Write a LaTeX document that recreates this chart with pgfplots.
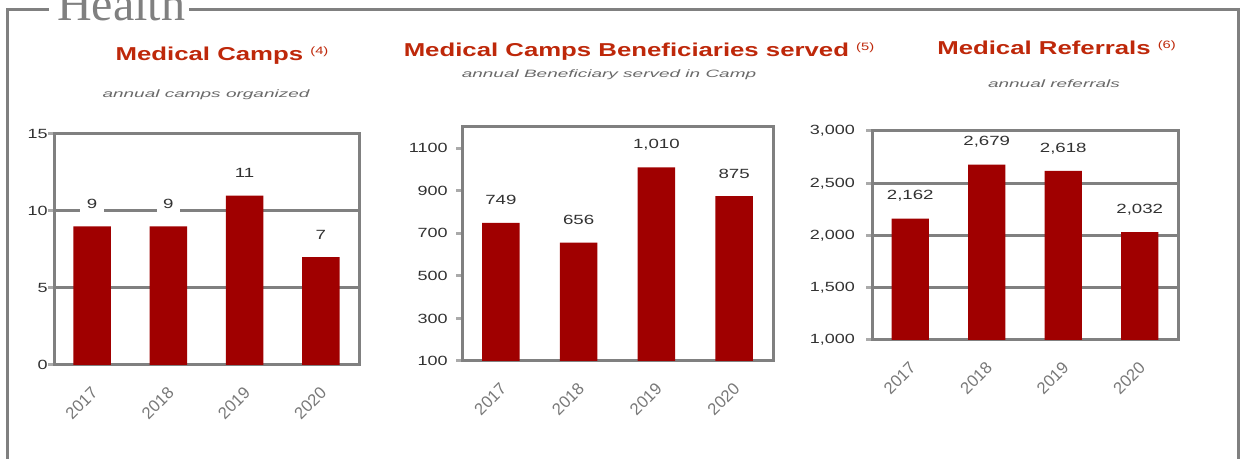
\documentclass[border=0pt]{standalone}
\usepackage{pgfplots}
\pgfplotsset{compat=1.18}
\usepackage{fontspec}
\setmainfont{Liberation Sans}
\newfontfamily\serif{Liberation Serif}
\definecolor{barred}{RGB}{160,0,0}
\definecolor{framegray}{RGB}{128,128,128}
\definecolor{tickgray}{RGB}{170,170,170}
\definecolor{titlered}{RGB}{190,40,10}
\definecolor{subgray}{RGB}{105,105,105}
\definecolor{labeldark}{RGB}{50,50,50}
\definecolor{yeargray}{RGB}{120,120,120}

\pgfplotsset{
  healthbar/.style={
    ybar, bar width=28pt,
    scale only axis,
    xmin=-0.5, xmax=3.5,
    xtick={0,1,2,3}, xticklabels={2017,2018,2019,2020},
    axis line style={framegray, line width=2.25pt},
    xtick style={draw=none},
    ytick pos=left,
    ytick style={draw=tickgray, line width=2.25pt},
    tick align=outside, major tick length=4.5pt,
    grid style={framegray, line width=2.25pt},
    scaled y ticks=false,
    /pgf/number format/assume math mode=true,
    yticklabel style={font=\fontsize{10}{12}\selectfont, text=labeldark, anchor=east, inner sep=0pt, xscale=1.35},
    xticklabel style={font=\fontsize{12.5}{14}\selectfont, text=yeargray, inner sep=0pt, anchor=east, yshift=-14pt, xshift=2pt, rotate=45},
    nodes near coords={\pgfmathprintnumber[1000 sep={,}]{\pgfplotspointmeta}},
    every node near coord/.append style={anchor=center, yshift=17pt, fill=white, inner xsep=3.5pt, inner ysep=3.5pt, font=\fontsize{10}{12}\selectfont, text=labeldark, xscale=1.4},
  }
}

\begin{document}
\begin{tikzpicture}
\useasboundingbox (0,0) rectangle (930.75pt,344.25pt);
\begin{scope}
\clip (0,0) rectangle (930.75pt,344.25pt);
\draw[framegray, line width=2.25pt] (36.75pt,336.75pt) -- (5.25pt,336.75pt) -- (5.25pt,-10pt);
\draw[framegray, line width=2.25pt] (141.75pt,336.75pt) -- (928.5pt,336.75pt) -- (928.5pt,-10pt);
\node[anchor=base west, inner sep=0pt, text=framegray, font=\serif\fontsize{36}{40}\selectfont] at (42.75pt,328.5pt) {Health};
\end{scope}

% titles
\node[anchor=base, text=titlered, font=\bfseries\fontsize{14}{16}\selectfont, xscale=1.38, inner sep=0pt] at (166.5pt,298.5pt) {Medical Camps \raisebox{5pt}{\mdseries\fontsize{8}{8}\selectfont (4)}};
\node[anchor=base, text=titlered, font=\bfseries\fontsize{14}{16}\selectfont, xscale=1.38, inner sep=0pt] at (479.25pt,301.5pt) {Medical Camps Beneficiaries served \raisebox{5pt}{\mdseries\fontsize{8}{8}\selectfont (5)}};
\node[anchor=base, text=titlered, font=\bfseries\fontsize{14}{16}\selectfont, xscale=1.38, inner sep=0pt] at (792.4pt,303pt) {Medical Referrals \raisebox{5pt}{\mdseries\fontsize{8}{8}\selectfont (6)}};
\node[anchor=base, text=subgray, font=\itshape\fontsize{8}{9}\selectfont, xscale=1.78, inner sep=0pt] at (154.5pt,270.75pt) {annual camps organized};
\node[anchor=base, text=subgray, font=\itshape\fontsize{8}{9}\selectfont, xscale=1.78, inner sep=0pt] at (456.75pt,285.75pt) {annual Beneficiary served in Camp};
\node[anchor=base, text=subgray, font=\itshape\fontsize{8}{9}\selectfont, xscale=1.78, inner sep=0pt] at (790.5pt,278.25pt) {annual referrals};

% Medical Camps
\begin{axis}[healthbar, at={(40.5pt,70.5pt)}, anchor=south west,
  width=228.75pt, height=173.25pt,
  ymin=0, ymax=15, ytick={0,5,10,15}, ymajorgrids]
\addplot[fill=barred, draw=none] coordinates {(0,9) (1,9) (2,11) (3,7)};
\end{axis}

% Beneficiaries
\begin{axis}[healthbar, at={(346.5pt,73.5pt)}, anchor=south west,
  width=233.25pt, height=175.5pt,
  ymin=100, ymax=1200, ytick={100,300,500,700,900,1100},
  yticklabel style={xshift=-4.5pt},
  /pgf/number format/1000 sep={}]
\addplot[fill=barred, draw=none] coordinates {(0,749) (1,656) (2,1010) (3,875)};
\end{axis}

% Referrals
\begin{axis}[healthbar, at={(654pt,89.25pt)}, anchor=south west,
  width=229.5pt, height=156.75pt,
  ymin=1000, ymax=3000, ytick={1000,1500,2000,2500,3000}, ymajorgrids,
  yticklabel style={xshift=-6pt},
  /pgf/number format/1000 sep={,}]
\addplot[fill=barred, draw=none] coordinates {(0,2162) (1,2679) (2,2618) (3,2032)};
\end{axis}
\end{tikzpicture}
\end{document}
